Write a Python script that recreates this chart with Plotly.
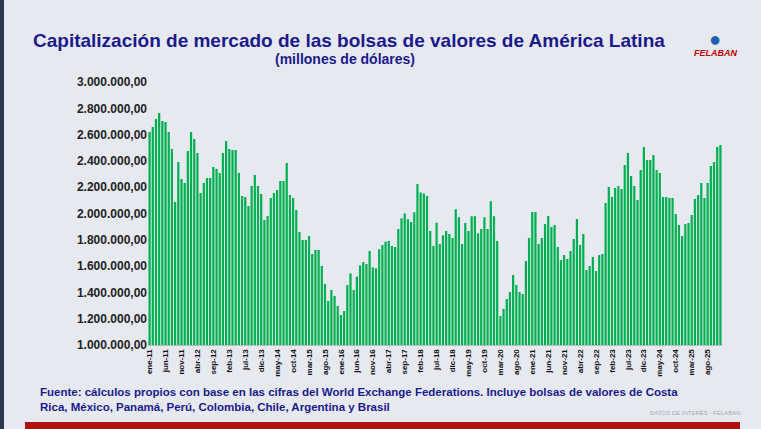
import plotly.graph_objects as go

# Datos (millones de USD), ene-11 a dic-25
meses = ["ene", "feb", "mar", "abr", "may", "jun", "jul", "ago", "sep", "oct", "nov", "dic"]
periodos = [f"{m}-{a:02d}" for a in range(11, 26) for m in meses]

valores_2011_2015 = [2.62, 2.658, 2.719, 2.764, 2.704, 2.696, 2.62, 2.49, 2.088, 2.392, 2.262, 2.232,
                     2.475, 2.62, 2.567, 2.46, 2.156, 2.232, 2.27, 2.27, 2.354, 2.338, 2.308, 2.46,
                     2.551, 2.49, 2.483, 2.483, 2.308, 2.133, 2.126, 2.057, 2.209, 2.293, 2.209, 2.148,
                     1.951, 1.981, 2.118, 2.156, 2.179, 2.247, 2.247, 2.384, 2.141, 2.118, 2.027, 1.859,
                     1.799, 1.799, 1.829, 1.692, 1.723, 1.723, 1.601, 1.464, 1.335]
valores_2015_2020 = [1.418, 1.373, 1.297, 1.228, 1.258, 1.456, 1.545, 1.418, 1.52, 1.606, 1.631, 1.616,
                     1.715, 1.59, 1.583, 1.728, 1.76, 1.786, 1.791, 1.753, 1.745, 1.882, 1.963, 2.0,
                     1.956, 1.935, 2.01, 2.224, 2.16, 2.153, 2.133, 1.867, 1.753, 1.93, 1.768, 1.834,
                     1.867, 1.844, 1.814, 2.032, 1.971, 1.768, 1.928, 1.867, 1.98, 1.98, 1.849, 1.882,
                     1.971, 1.882, 2.093, 1.98, 1.791, 1.22, 1.274, 1.35, 1.403, 1.532, 1.456, 1.403,
                     1.388, 1.639, 1.814]
valores_2021_2025 = [2.011, 2.011, 1.768, 1.814, 1.920, 1.981, 1.897, 1.913, 1.745, 1.646, 1.684, 1.654,
                     1.715, 1.806, 1.958, 1.761, 1.844, 1.570, 1.601, 1.669, 1.563, 1.684, 1.692, 2.080,
                     2.202, 2.126, 2.194, 2.209, 2.186, 2.369, 2.460, 2.285, 2.209, 2.103, 2.331, 2.506,
                     2.407, 2.407, 2.445, 2.331, 2.308, 2.126, 2.126, 2.118, 2.118, 1.996, 1.913, 1.829,
                     1.920, 1.928, 1.989, 2.110, 2.141, 2.232, 2.118, 2.232, 2.361, 2.392, 2.506, 2.521]
valores = [v * 1e6 for v in valores_2011_2015 + valores_2015_2020 + valores_2021_2025]

azul = "#1a1a8c"
W, H = 761, 429
ML, MR, MT, MB = 148, 39, 82, 84

fig = go.Figure(go.Bar(x=periodos, y=valores, marker_color="#00b050", marker_line_width=0))

fig.update_layout(
    width=W, height=H,
    margin=dict(l=ML, r=MR, t=MT, b=MB),
    paper_bgcolor="#e7e9f0", plot_bgcolor="rgba(0,0,0,0)",
    separators=",.", bargap=0.3, showlegend=False,
    font=dict(family="Liberation Sans, Arial", color="#222"),
    xaxis=dict(tickmode="array", tickvals=periodos[::5], tickangle=-90,
               tickfont=dict(size=8, color="#111", family="Liberation Sans Narrow, Liberation Sans",
                             weight="bold"),
               showline=True, linecolor="#bbb"),
    yaxis=dict(range=[1e6, 3e6], dtick=2e5, tickformat=",.2f", showgrid=False,
               tickfont=dict(size=12, color="#222", weight="bold")),
)


# convierte píxeles de la página a coordenadas paper
def pagina(px, py):
    return (px - ML) / (W - ML - MR), (H - MB - py) / (H - MT - MB)


for txt, px, py, size in [
    ("<b>Capitalización de mercado de las bolsas de valores de América Latina</b>", 349, 28, 19),
    ("<b>(millones de dólares)</b>", 345, 49, 14),
]:
    x, y = pagina(px, py)
    fig.add_annotation(x=x, y=y, xref="paper", yref="paper", showarrow=False, xanchor="center",
                       text=txt, font=dict(size=size, color=azul))

x, y = pagina(38, 415)
fig.add_annotation(x=x, y=y, xref="paper", yref="paper", showarrow=False, xanchor="left", align="left",
                   text="<b>Fuente: cálculos propios con base en las cifras del World Exchange Federations. Incluye bolsas de valores de Costa<br>Rica, México, Panamá, Perú, Colombia, Chile, Argentina y Brasil</b>",
                   font=dict(size=11.5, color=azul))
x, y = pagina(715, 46)
fig.add_annotation(x=x, y=y, xref="paper", yref="paper", showarrow=False, xanchor="center",
                   text="<b><i>FELABAN</i></b>", font=dict(size=9, color="#c00000"))
x, y = pagina(715, 26)
fig.add_annotation(x=x, y=y, xref="paper", yref="paper", showarrow=False, xanchor="center",
                   text="●", font=dict(size=20, color="#1f5fb0"))
x, y = pagina(695, 418)
fig.add_annotation(x=x, y=y, xref="paper", yref="paper", showarrow=False, xanchor="center",
                   text="DATOS DE INTERÉS - FELABAN", font=dict(size=6, color="#aaa"))

x0, y0 = pagina(25, 429)
x1, y1 = pagina(740, 422)
fig.add_shape(type="rect", xref="paper", yref="paper", x0=x0, x1=x1, y0=y0, y1=y1,
              fillcolor="#b01010", line_width=0)
x0, y0 = pagina(0, 429)
x1, y1 = pagina(4, 0)
fig.add_shape(type="rect", xref="paper", yref="paper", x0=x0, x1=x1, y0=y0, y1=y1,
              fillcolor="#2a3550", line_width=0)

fig.write_html("out.html", config={"displayModeBar": False},
               post_script="document.body.style.margin='0';")
